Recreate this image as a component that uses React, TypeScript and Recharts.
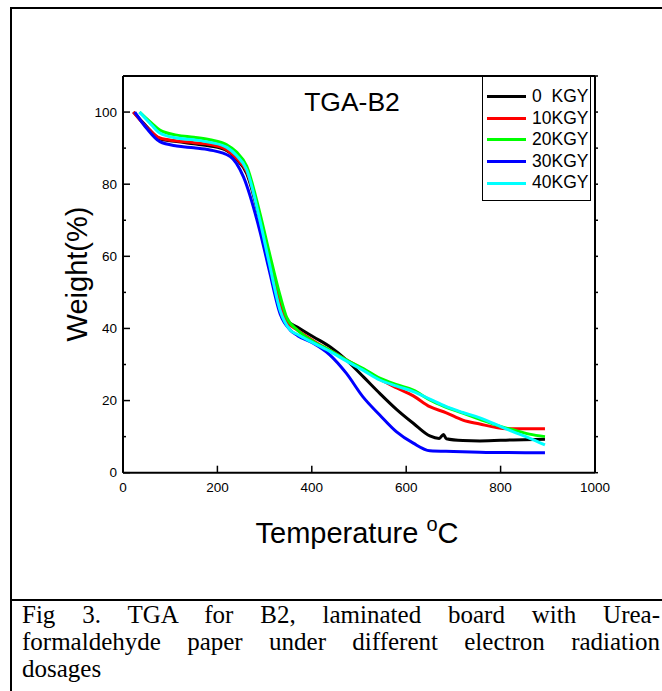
import React from 'react';
import { LineChart, Line, XAxis, YAxis, Legend } from 'recharts';

// temperature (°C) / weight (%)
const T_0KGY = [22, 50, 78, 114, 150, 184, 220, 240, 262, 290, 310, 333, 347, 370, 403, 440, 473, 510, 544, 580, 615, 650, 670, 679, 685, 720, 756, 827, 894];
const W_0KGY = [100, 96, 92.6, 91.8, 91.2, 90.6, 89.3, 87, 83, 70, 59, 46, 42.4, 40.3, 37.7, 34.8, 31.3, 26.5, 22, 17.5, 13.7, 10.2, 9.5, 10.6, 9.4, 8.9, 8.8, 9.1, 9.3];

const T_10KGY = [22, 50, 78, 114, 150, 184, 220, 240, 262, 290, 310, 333, 347, 370, 403, 440, 473, 510, 544, 580, 615, 650, 685, 720, 756, 791, 812, 894];
const W_10KGY = [100, 95.8, 92.8, 92, 91.5, 91, 89.5, 87.2, 83.5, 71, 60, 47, 42, 39.5, 36.6, 33.8, 31.3, 28.6, 25.9, 23.5, 21.3, 18.3, 16.6, 14.6, 13.5, 12.5, 12.2, 12.2];

const T_20KGY = [35, 60, 78, 114, 150, 184, 220, 240, 262, 290, 310, 333, 347, 370, 403, 440, 473, 510, 544, 580, 615, 650, 664, 720, 756, 791, 826, 861, 894];
const W_20KGY = [100, 97, 95, 93.6, 93, 92.3, 90.9, 89, 85, 72, 61, 49, 43, 39.5, 36.4, 33.8, 31.3, 28.8, 26.2, 24.4, 22.9, 20.2, 19.3, 16.5, 14.8, 13.2, 11.9, 10.7, 10];

const T_30KGY = [25, 50, 78, 114, 150, 184, 227, 255, 290, 310, 333, 354, 370, 403, 438, 473, 508, 544, 579, 615, 650, 700, 756, 894];
const W_30KGY = [100, 95.5, 91.8, 90.6, 90.1, 89.5, 87.7, 82.1, 67, 56, 44, 39.6, 38, 35.9, 32.7, 27.6, 21.1, 16, 11.4, 8.2, 6.1, 5.9, 5.7, 5.5];

const T_40KGY = [35, 60, 78, 114, 150, 184, 220, 240, 262, 290, 310, 333, 354, 370, 403, 440, 473, 510, 544, 580, 615, 650, 685, 720, 756, 791, 826, 861, 894];
const W_40KGY = [100, 96.5, 94.2, 92.8, 92.3, 91.6, 90.2, 88, 84, 70, 58, 45, 39.6, 38.3, 36, 33.5, 31, 28.3, 25.7, 24, 22.5, 20.4, 18.3, 16.7, 15.2, 13.3, 11.4, 9.6, 7.7];

const X_TICKS = [0, 200, 400, 600, 800, 1000];
const X_MINOR = [100, 300, 500, 700, 900];
const X_ALL = [0, 100, 200, 300, 400, 500, 600, 700, 800, 900, 1000];
const Y_TICKS = [0, 20, 40, 60, 80, 100];
const Y_MINOR = [10, 30, 50, 70, 90];
const Y_ALL = [0, 10, 20, 30, 40, 50, 60, 70, 80, 90, 100, 110];

const zip = (t: number[], w: number[]) => t.map((v, i) => ({ t: v, w: w[i] }));

const series = [
  { name: '0  KGY', color: '#000000', data: zip(T_0KGY, W_0KGY) },
  { name: '10KGY', color: '#ff0000', data: zip(T_10KGY, W_10KGY) },
  { name: '20KGY', color: '#00ff00', data: zip(T_20KGY, W_20KGY) },
  { name: '30KGY', color: '#0000ff', data: zip(T_30KGY, W_30KGY) },
  { name: '40KGY', color: '#00ffff', data: zip(T_40KGY, W_40KGY) },
];

const SANS = '"Liberation Sans", Arial, sans-serif';
const tickStyle = { fill: '#000', fontSize: 13.5, fontFamily: SANS };
const axisLine = { stroke: '#000', strokeWidth: 2 };
const tickLine = { stroke: '#000', strokeWidth: 1.5 };
const NoLabel = () => <g />;

const renderLegend = (props: any) => {
  const { payload } = props;
  return (
    <div
      style={{
        width: 109,
        height: 125,
        border: '1px solid #000',
        boxSizing: 'border-box',
        background: '#fff',
        paddingTop: 9,
      }}
    >
      {payload.map((entry: any) => (
        <div key={entry.value} style={{ display: 'flex', alignItems: 'center', height: 21.6 }}>
          <div style={{ width: 39, height: 3, background: entry.color, marginLeft: 4 }} />
          <span
            style={{
              marginLeft: 6,
              fontSize: 17.5,
              fontFamily: SANS,
              whiteSpace: 'pre',
              lineHeight: 1,
              color: '#000',
            }}
          >
            {entry.value}
          </span>
        </div>
      ))}
    </div>
  );
};

const captionLine: React.CSSProperties = {
  textAlign: 'justify',
  textAlignLast: 'justify',
  whiteSpace: 'nowrap',
  height: 27,
};

export default function App() {
  return (
    <div
      style={{
        position: 'absolute',
        left: 0,
        top: 0,
        width: 662,
        height: 691,
        overflow: 'hidden',
        background: '#fff',
      }}
    >
      <div style={{ position: 'absolute', left: 0, top: 0 }}>
        <LineChart width={662} height={600} margin={{ top: 75, left: 121, right: 66, bottom: 125.3 }}>
          <XAxis
            xAxisId="main"
            type="number"
            dataKey="t"
            domain={[0, 1000]}
            ticks={X_TICKS}
            interval={0}
            height={1}
            tickSize={-7}
            tickMargin={17}
            tick={tickStyle}
            axisLine={axisLine}
            tickLine={tickLine}
            allowDataOverflow
          />
          <XAxis
            xAxisId="minorB"
            type="number"
            domain={[0, 1000]}
            ticks={X_MINOR}
            interval={0}
            height={1}
            tickSize={-4}
            tick={NoLabel}
            axisLine={false}
            tickLine={tickLine}
            allowDataOverflow
          />
          <XAxis
            xAxisId="top"
            orientation="top"
            type="number"
            domain={[0, 1000]}
            ticks={X_ALL}
            interval={0}
            height={1}
            tickSize={-4}
            tick={NoLabel}
            axisLine={axisLine}
            tickLine={tickLine}
            allowDataOverflow
          />
          <YAxis
            yAxisId="main"
            type="number"
            domain={[0, 110]}
            ticks={Y_TICKS}
            interval={0}
            width={1}
            tickSize={-7}
            tickMargin={13}
            tick={tickStyle}
            axisLine={axisLine}
            tickLine={tickLine}
            allowDataOverflow
          />
          <YAxis
            yAxisId="minorL"
            type="number"
            domain={[0, 110]}
            ticks={Y_MINOR}
            interval={0}
            width={1}
            tickSize={-4}
            tick={NoLabel}
            axisLine={false}
            tickLine={tickLine}
            allowDataOverflow
          />
          <YAxis
            yAxisId="right"
            orientation="right"
            type="number"
            domain={[0, 110]}
            ticks={Y_ALL}
            interval={0}
            width={1}
            tickSize={3}
            tick={NoLabel}
            axisLine={axisLine}
            tickLine={tickLine}
            allowDataOverflow
          />
          <Legend
            layout="vertical"
            align="center"
            verticalAlign="middle"
            content={renderLegend}
            wrapperStyle={{ position: 'absolute', left: 482, top: 76, width: 109, height: 125 }}
          />
          {series.map((s) => (
            <Line
              key={s.name}
              xAxisId="main"
              yAxisId="main"
              data={s.data}
              dataKey="w"
              name={s.name}
              type="monotone"
              stroke={s.color}
              strokeWidth={3}
              dot={false}
              activeDot={false}
              isAnimationActive={false}
            />
          ))}
        </LineChart>
      </div>

      <svg
        width={662}
        height={600}
        style={{ position: 'absolute', left: 0, top: 0, pointerEvents: 'none' }}
      >
        <text x={352} y={111} textAnchor="middle" fontFamily={SANS} fontSize={26.5} fill="#000">
          TGA-B2
        </text>
        <text
          transform="translate(87,274) rotate(-90)"
          textAnchor="middle"
          fontFamily={SANS}
          fontSize={29}
          fill="#000"
        >
          Weight(%)
        </text>
        <text x={357} y={543} textAnchor="middle" fontFamily={SANS} fontSize={29} fill="#000">
          Temperature{' '}
          <tspan fontSize={20} dy={-12}>
            o
          </tspan>
          <tspan fontSize={29} dy={12}>
            C
          </tspan>
        </text>
      </svg>

      {/* figure frame and caption */}
      <div style={{ position: 'absolute', left: 10, top: 7, width: 700, height: 700, borderLeft: '2px solid #000', borderTop: '2px solid #000' }} />
      <div style={{ position: 'absolute', left: 10, top: 599, width: 700, height: 2, background: '#000' }} />
      <div
        style={{
          position: 'absolute',
          left: 22,
          top: 601,
          width: 638,
          fontFamily: '"Liberation Serif", "Times New Roman", serif',
          fontSize: 25,
          lineHeight: '27px',
          color: '#000',
        }}
      >
        <div style={captionLine}>Fig 3. TGA for B2, laminated board with Urea-</div>
        <div style={captionLine}>formaldehyde paper under different electron radiation</div>
        <div style={{ height: 27 }}>dosages</div>
      </div>
    </div>
  );
}
